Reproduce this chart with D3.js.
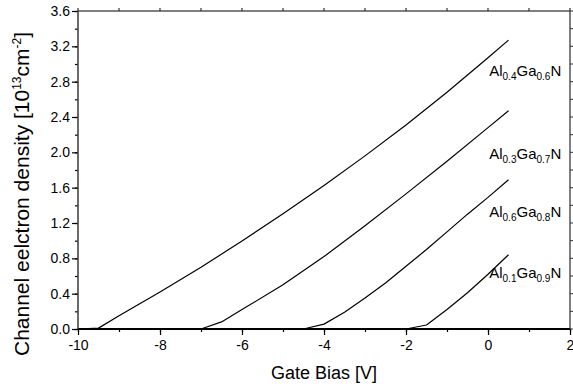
<!DOCTYPE html>
<html>
<head>
<meta charset="utf-8">
<script src="https://cdn.jsdelivr.net/npm/d3@7"></script>
<style>
  html, body { margin: 0; padding: 0; background: #fff; }
  svg { display: block; font-family: Arial, "Liberation Sans", sans-serif; }
</style>
</head>
<body>
<svg id="chart" width="573" height="388"></svg>
<script>
// Gate bias sweep (V) and sheet electron density (10^13 cm^-2) for each barrier
const bias1 = [-10, -9.5, -9, -8, -7, -6, -5, -4, -3, -2, -1, 0, 0.5];
const dens1 = [0.0, 0.01, 0.15, 0.42, 0.70, 0.995, 1.305, 1.625, 1.96, 2.31, 2.68, 3.07, 3.27];

const bias2 = [-10, -7, -6.5, -6, -5, -4, -3, -2, -1, 0, 0.5];
const dens2 = [0, 0, 0.08, 0.22, 0.50, 0.82, 1.17, 1.53, 1.90, 2.28, 2.47];

const bias3 = [-10, -4.5, -4, -3.5, -3, -2.5, -2, -1.5, -1, -0.5, 0, 0.5];
const dens3 = [0, 0, 0.055, 0.19, 0.35, 0.52, 0.71, 0.90, 1.10, 1.30, 1.49, 1.69];

const bias4 = [-10, -2, -1.5, -1, -0.5, 0, 0.5];
const dens4 = [0, 0, 0.045, 0.22, 0.41, 0.62, 0.84];

// Curve labels: [main, subscript, main, subscript, main] and anchor in data units
const labelParts = [
  ["Al", "0.4", "Ga", "0.6", "N"],
  ["Al", "0.3", "Ga", "0.7", "N"],
  ["Al", "0.6", "Ga", "0.8", "N"],
  ["Al", "0.1", "Ga", "0.9", "N"]
];
const labelBias = [0.03, 0.03, 0.03, 0.03];
const labelDens = [2.86, 1.92, 1.27, 0.58];

const xTicks = [-10, -8, -6, -4, -2, 0, 2];
const yTicks = [0.0, 0.4, 0.8, 1.2, 1.6, 2.0, 2.4, 2.8, 3.2, 3.6];

const series = [
  { x: bias1, y: dens1 },
  { x: bias2, y: dens2 },
  { x: bias3, y: dens3 },
  { x: bias4, y: dens4 }
];

const W = 573, H = 388;
const margin = { top: 11, right: 3, bottom: 59, left: 78 };
const svg = d3.select("#chart");
const FONT = "Arial, 'Liberation Sans', sans-serif";

const x = d3.scaleLinear().domain([-10, 2]).range([margin.left, W - margin.right]);
const y = d3.scaleLinear().domain([0, 3.6]).range([H - margin.bottom, margin.top]);

const xMinor = d3.range(-10, 2.001, 1);
const yMinor = d3.range(0, 3.601, 0.2);

// Frame lines
const frame = svg.append("g");
frame.append("line").attr("x1", x(-10)).attr("x2", x(2)).attr("y1", y(3.6)).attr("y2", y(3.6))
  .attr("stroke", "#555").attr("stroke-width", 1.6);
frame.append("line").attr("x1", x(2)).attr("x2", x(2)).attr("y1", y(3.6)).attr("y2", y(0))
  .attr("stroke", "#000").attr("stroke-width", 1);

// Top and right minor ticks (outward)
frame.selectAll(".tt").data(xMinor).join("line")
  .attr("x1", d => x(d)).attr("x2", d => x(d))
  .attr("y1", y(3.6)).attr("y2", y(3.6) - 3)
  .attr("stroke", "#333").attr("stroke-width", 1.2);
frame.selectAll(".rt").data(yMinor).join("line")
  .attr("y1", d => y(d)).attr("y2", d => y(d))
  .attr("x1", x(2)).attr("x2", x(2) + 3)
  .attr("stroke", "#333").attr("stroke-width", 1);

// Bottom axis
const gx = svg.append("g").attr("transform", `translate(0,${y(0)})`);
gx.call(d3.axisBottom(x).tickValues(xMinor).tickSize(3).tickFormat(""))
  .call(g => g.select(".domain").remove())
  .call(g => g.selectAll("line").attr("stroke", "#000").attr("stroke-width", 1.2));
gx.append("g")
  .call(d3.axisBottom(x).tickValues(xTicks).tickSize(6).tickPadding(5).tickFormat(d => String(d)))
  .call(g => g.select(".domain").remove())
  .call(g => g.selectAll("line").attr("stroke", "#000").attr("stroke-width", 1.2))
  .call(g => g.selectAll("text").attr("font-size", 14).attr("fill", "#000").attr("font-family", FONT));
gx.append("line").attr("x1", x(-10)).attr("x2", x(2)).attr("stroke", "#000").attr("stroke-width", 1.8);

// Left axis
const gy = svg.append("g").attr("transform", `translate(${x(-10)},0)`);
gy.call(d3.axisLeft(y).tickValues(yMinor).tickSize(3).tickFormat(""))
  .call(g => g.select(".domain").remove())
  .call(g => g.selectAll("line").attr("stroke", "#000").attr("stroke-width", 1.2));
gy.append("g")
  .call(d3.axisLeft(y).tickValues(yTicks).tickSize(6).tickPadding(2).tickFormat(d3.format(".1f")))
  .call(g => g.select(".domain").remove())
  .call(g => g.selectAll("line").attr("stroke", "#000").attr("stroke-width", 1.2))
  .call(g => g.selectAll("text").attr("font-size", 14).attr("fill", "#000").attr("font-family", FONT));
gy.append("line").attr("y1", y(0)).attr("y2", y(3.6)).attr("stroke", "#444").attr("stroke-width", 1.6);

// Density curves (straight segments between computed bias points)
const line = d3.line().x(d => x(d[0])).y(d => y(d[1]));
svg.append("g").selectAll("path").data(series).join("path")
  .attr("d", s => line(s.x.map((v, i) => [v, s.y[i]])))
  .attr("fill", "none").attr("stroke", "#000").attr("stroke-width", 1.2)
  .attr("stroke-linejoin", "round");

// Curve labels with subscripts
const labels = svg.append("g");
labelParts.forEach((parts, k) => {
  const t = labels.append("text")
    .attr("x", x(labelBias[k])).attr("y", y(labelDens[k]))
    .attr("font-size", 15).attr("fill", "#000");
  parts.forEach((p, i) => {
    const sub = i % 2 === 1;
    t.append("tspan").text(p)
      .attr("font-size", sub ? 10 : 15)
      .attr("dy", sub ? 4 : (i === 0 ? 0 : -4));
  });
});

// Axis titles
svg.append("text").attr("x", (x(-10) + x(2)) / 2).attr("y", 379)
  .attr("text-anchor", "middle").attr("font-size", 18).attr("fill", "#000")
  .text("Gate Bias [V]");

const yt = svg.append("text")
  .attr("transform", `translate(29,194) rotate(-90)`)
  .attr("text-anchor", "middle").attr("font-size", 21).attr("fill", "#000");
yt.append("tspan").text("Channel eelctron density [10");
yt.append("tspan").text("13").attr("font-size", 12).attr("dy", -8);
yt.append("tspan").text("cm").attr("dy", 8);
yt.append("tspan").text("-2").attr("font-size", 12).attr("dy", -8);
yt.append("tspan").text("]").attr("dy", 8);
</script>
</body>
</html>
